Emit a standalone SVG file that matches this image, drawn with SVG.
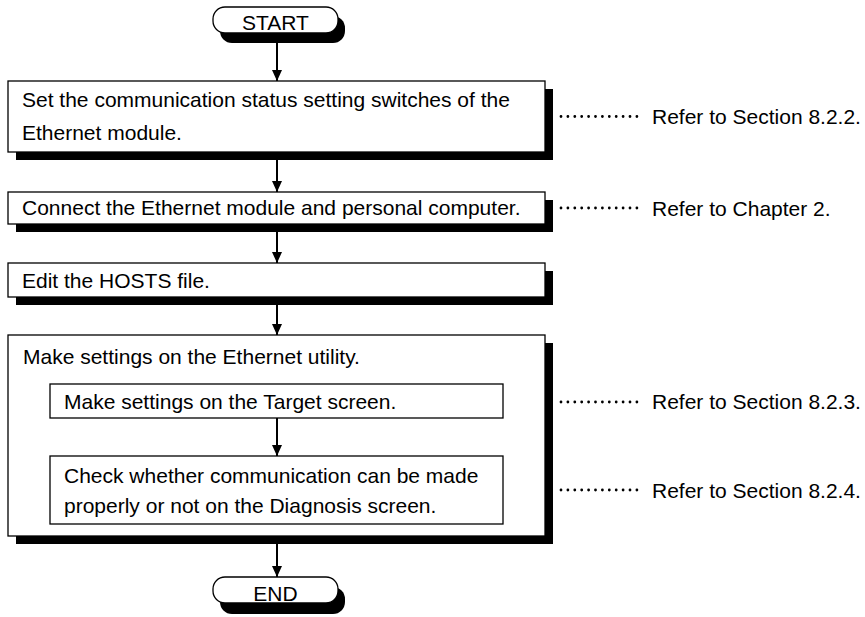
<svg xmlns="http://www.w3.org/2000/svg" width="865" height="617" viewBox="0 0 865 617">
<style>
text{font-family:"Liberation Sans",Arial,sans-serif;font-size:21px;fill:#000}
.box{fill:#fff;stroke:#000;stroke-width:1.3}
.sh{fill:#000}
.ln{stroke:#000;stroke-width:2;fill:none}
.dots{stroke:#000;stroke-width:2.8;stroke-linecap:round;stroke-dasharray:0 6.9;fill:none}
</style>
<defs>
<marker id="ah" viewBox="0 0 11 10" refX="11" refY="5" markerWidth="11" markerHeight="10" markerUnits="userSpaceOnUse" orient="auto">
<path d="M0,0 L11,5 L0,10 Z" fill="#000"/>
</marker>
</defs>
<rect width="865" height="617" fill="#fff"/>

<g id="start">
<rect class="sh" x="220" y="16" width="125" height="27" rx="12"/>
<rect class="box" x="213" y="7" width="125" height="26" rx="12"/>
<text x="275.5" y="30" text-anchor="middle">START</text>
</g>

<g id="step1">
<rect class="sh" x="16" y="89" width="537" height="71"/>
<rect class="box" x="8" y="81" width="537" height="71"/>
<text x="22" y="107">Set the communication status setting switches of the</text>
<text x="22" y="140">Ethernet module.</text>
</g>

<g id="step2">
<rect class="sh" x="16" y="200" width="537" height="32"/>
<rect class="box" x="8" y="192" width="537" height="32"/>
<text x="22" y="215">Connect the Ethernet module and personal computer.</text>
</g>

<g id="step3">
<rect class="sh" x="16" y="271" width="537" height="34"/>
<rect class="box" x="8" y="263" width="537" height="34"/>
<text x="22" y="288">Edit the HOSTS file.</text>
</g>

<g id="step4">
<rect class="sh" x="16" y="343" width="537" height="201"/>
<rect class="box" x="8" y="335" width="537" height="201"/>
<text x="23" y="364">Make settings on the Ethernet utility.</text>
</g>

<g id="step4a">
<rect class="box" x="50" y="384" width="453" height="34"/>
<text x="64" y="409">Make settings on the Target screen.</text>
</g>

<g id="step4b">
<rect class="box" x="50" y="456" width="453" height="68"/>
<text x="64" y="483">Check whether communication can be made</text>
<text x="64" y="513">properly or not on the Diagnosis screen.</text>
</g>

<g id="end">
<rect class="sh" x="220" y="587" width="125" height="27" rx="12"/>
<rect class="box" x="213" y="577" width="125" height="26" rx="12"/>
<text x="275.5" y="601" text-anchor="middle">END</text>
</g>

<g id="connectors">
<line class="ln" x1="277" y1="43" x2="277" y2="81" marker-end="url(#ah)"/>
<line class="ln" x1="277" y1="160" x2="277" y2="192" marker-end="url(#ah)"/>
<line class="ln" x1="277" y1="232" x2="277" y2="263" marker-end="url(#ah)"/>
<line class="ln" x1="277" y1="305" x2="277" y2="335" marker-end="url(#ah)"/>
<line class="ln" x1="277" y1="418" x2="277" y2="456" marker-end="url(#ah)"/>
<line class="ln" x1="277" y1="544" x2="277" y2="577" marker-end="url(#ah)"/>
</g>

<g id="refs">
<line class="dots" x1="561" y1="116.5" x2="638" y2="116.5"/>
<text x="652" y="124">Refer to Section 8.2.2.</text>
<line class="dots" x1="561" y1="208" x2="638" y2="208"/>
<text x="652" y="215.5">Refer to Chapter 2.</text>
<line class="dots" x1="561" y1="402" x2="638" y2="402"/>
<text x="652" y="409">Refer to Section 8.2.3.</text>
<line class="dots" x1="561" y1="490" x2="638" y2="490"/>
<text x="652" y="497.5">Refer to Section 8.2.4.</text>
</g>
</svg>
